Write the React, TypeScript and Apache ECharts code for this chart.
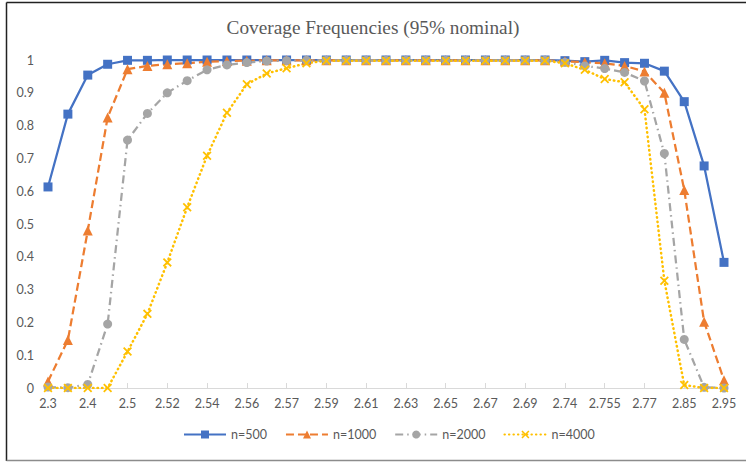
import React, { useEffect, useRef } from "react";
import * as echarts from "echarts";

const categories = [
  "2.3", "2.35", "2.4", "2.45", "2.5", "2.51", "2.52", "2.53", "2.54", "2.55",
  "2.56", "2.565", "2.57", "2.58", "2.59", "2.6", "2.61", "2.62", "2.63", "2.64",
  "2.65", "2.66", "2.67", "2.68", "2.69", "2.7", "2.74", "2.75", "2.755", "2.76",
  "2.77", "2.8", "2.85", "2.9", "2.95",
];

const n500 = [
  0.613, 0.835, 0.954, 0.987, 0.999, 0.999, 1, 1, 1, 1,
  1, 1, 1, 1, 1, 1, 1, 1, 1, 1,
  1, 1, 1, 1, 1, 1, 0.998, 0.995, 0.999, 0.992,
  0.99, 0.966, 0.873, 0.677, 0.383,
];
const n1000 = [
  0.02, 0.146, 0.48, 0.825, 0.972, 0.982, 0.987, 0.99, 0.995, 0.997,
  0.998, 0.999, 0.999, 0.999, 0.999, 0.999, 0.999, 0.999, 0.999, 0.999,
  0.999, 0.999, 0.999, 0.999, 0.999, 0.999, 0.996, 0.993, 0.99, 0.982,
  0.965, 0.9, 0.604, 0.202, 0.024,
];
const n2000 = [
  0.003, 0.001, 0.011, 0.195, 0.756, 0.837, 0.9, 0.937, 0.97, 0.985,
  0.992, 0.997, 0.998, 0.999, 0.999, 0.999, 0.999, 0.999, 0.999, 0.999,
  0.999, 0.999, 0.999, 0.999, 0.999, 0.999, 0.993, 0.982, 0.974, 0.962,
  0.936, 0.715, 0.148, 0.002, 0,
];
const n4000 = [
  0, 0, 0, 0, 0.111, 0.226, 0.383, 0.551, 0.708, 0.839,
  0.926, 0.959, 0.975, 0.99, 0.998, 0.998, 0.998, 0.998, 0.998, 0.998,
  0.998, 0.998, 0.998, 0.998, 0.998, 0.998, 0.99, 0.97, 0.942, 0.932,
  0.85, 0.327, 0.009, 0, 0,
];

const seriesNames = ["n=500", "n=1000", "n=2000", "n=4000"];
const titleText = "Coverage Frequencies (95% nominal)";

const X_SYMBOL =
  "path://M0,1.4 L1.4,0 L5,3.6 L8.6,0 L10,1.4 L6.4,5 L10,8.6 L8.6,10 L5,6.4 L1.4,10 L0,8.6 L3.6,5 Z";

export default function App() {
  const ref = useRef<HTMLDivElement>(null);

  useEffect(() => {
    if (!ref.current) return;
    const chart = echarts.init(ref.current, undefined, { renderer: "svg" });
    const labelColor = "#595959";
    const font = "Lato, 'Open Sans', sans-serif";
    chart.setOption({
      animation: false,
      backgroundColor: "#ffffff",
      title: {
        text: titleText,
        left: "center",
        top: 13,
        textStyle: {
          fontFamily: "'Liberation Serif', 'Times New Roman', serif",
          fontSize: 19.3,
          fontWeight: "normal",
          color: labelColor,
        },
      },
      graphic: [
        { type: "line", shape: { x1: 6.5, y1: 2.5, x2: 6.5, y2: 461 }, style: { stroke: "#222", lineWidth: 1.5 } },
        { type: "line", shape: { x1: 6.5, y1: 2.5, x2: 746, y2: 2.5 }, style: { stroke: "#222", lineWidth: 1.5 } },
        { type: "line", shape: { x1: 6.5, y1: 460.5, x2: 746, y2: 460.5 }, style: { stroke: "#8c8c8c", lineWidth: 1.5 } },
      ],
      legend: {
        bottom: 16,
        left: 178,
        itemWidth: 42,
        itemHeight: 10,
        itemGap: 18,
        textStyle: { color: labelColor, fontFamily: font, fontSize: 12.5 },
        data: seriesNames,
      },
      grid: { left: 48, right: 22, top: 60, bottom: 74, containLabel: false },
      xAxis: {
        type: "category",
        data: categories,
        boundaryGap: false,
        axisLine: { lineStyle: { color: "#D9D9D9", width: 1 } },
        axisTick: { show: true, inside: true, length: 5, interval: 1, lineStyle: { color: "#D9D9D9" } },
        axisLabel: { interval: 1, color: labelColor, fontFamily: font, fontSize: 12.5, margin: 9 },
        splitLine: { show: false },
      },
      yAxis: {
        type: "value",
        min: 0,
        max: 1,
        interval: 0.1,
        axisLine: { show: false },
        axisTick: { show: false },
        splitLine: { show: false },
        axisLabel: {
          color: labelColor,
          fontFamily: font,
          fontSize: 12.5,
          margin: 14,
          formatter: (v: number) => String(Math.round(v * 10) / 10),
        },
      },
      series: [
        {
          name: seriesNames[0],
          type: "line",
          data: n500,
          symbol: "rect",
          symbolSize: 9,
          lineStyle: { color: "#4472C4", width: 2.25, type: "solid" },
          itemStyle: { color: "#4472C4" },
        },
        {
          name: seriesNames[1],
          type: "line",
          data: n1000,
          symbol: "triangle",
          symbolSize: 10,
          lineStyle: { color: "#ED7D31", width: 2.25, type: [8, 4] },
          itemStyle: { color: "#ED7D31" },
        },
        {
          name: seriesNames[2],
          type: "line",
          data: n2000,
          symbol: "circle",
          symbolSize: 9,
          lineStyle: { color: "#A5A5A5", width: 2.25, type: [8, 4, 1.5, 4] },
          itemStyle: { color: "#A5A5A5" },
        },
        {
          name: seriesNames[3],
          type: "line",
          data: n4000,
          symbol: X_SYMBOL,
          symbolSize: 9,
          lineStyle: { color: "#FFC000", width: 2.5, type: [0.5, 4], cap: "round" },
          itemStyle: { color: "#FFC000" },
        },
      ],
    });
    return () => chart.dispose();
  }, []);

  return (
    <div
      ref={ref}
      style={{ position: "fixed", left: 0, top: 0, width: 746, height: 462 }}
    />
  );
}
